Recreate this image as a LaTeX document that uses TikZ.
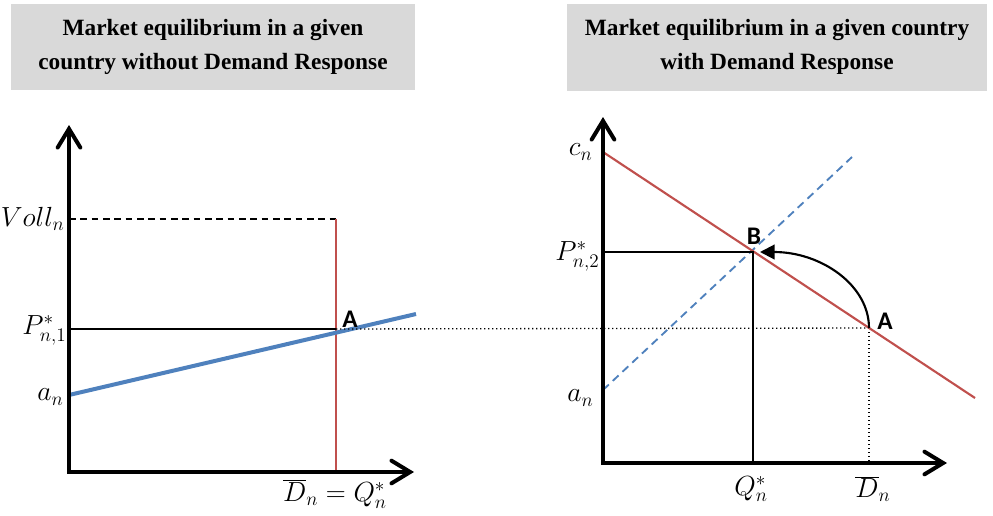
\documentclass[tikz,border=0pt]{standalone}
\usepackage{fontspec}
\setmainfont{Liberation Serif}
\newfontfamily\lblfont{Carlito}
\usetikzlibrary{arrows.meta}
\definecolor{boxgray}{RGB}{217,217,217}
\definecolor{dred}{RGB}{192,80,77}
\definecolor{dblue}{RGB}{79,129,189}
\tikzset{
  titlebox/.style={fill=boxgray, draw=none, inner sep=0pt, align=center,
    font=\fontsize{17.5pt}{25pt}\selectfont\bfseries},
  axisline/.style={line width=3pt, line cap=rect, -{Straight Barb[length=14pt,width=17pt,line cap=round]}},
  mathlbl/.style={inner sep=1pt, font=\fontsize{20pt}{24pt}\selectfont},
  ptlbl/.style={inner sep=0pt, font=\fontsize{19pt}{22pt}\selectfont\lblfont\bfseries},
  guide/.style={line width=1.1pt, black},
  dotline/.style={line width=1pt, black, dash pattern=on 1pt off 2pt},
  redline/.style={line width=1.6pt, dred},
}
\begin{document}
\begin{tikzpicture}[x=0.75pt,y=-0.75pt]
\useasboundingbox (0,0) rectangle (993,515);
% title boxes
\node[titlebox, minimum width=404*0.75pt, minimum height=86*0.75pt] (t1) at (213,47)
  {Market equilibrium in a given\\country without Demand Response};
\node[titlebox, minimum width=420*0.75pt, minimum height=87*0.75pt] (t2) at (777,47)
  {Market equilibrium in a given country\\with Demand Response};

% ---------- left plot ----------
\coordinate (O1) at (69,472);
\coordinate (Y1) at (69,125);
\coordinate (X1) at (414,472);
\coordinate (V1) at (336,219);
\coordinate (V0) at (69,219);
\coordinate (A1) at (336,329);
\coordinate (P1) at (69,329);
\coordinate (R1) at (336,472);
\coordinate (BL1) at (69,395);
\coordinate (BL2) at (416,314);

\draw[dashed, line width=1.1pt, dash pattern=on 5pt off 3.5pt] (V0) -- (V1);
\draw[redline] (V1) -- (R1);
\draw[guide] (P1) -- (A1);
\draw[dblue, line width=3pt] (BL1) -- (BL2);

% ---------- right plot ----------
\coordinate (O2) at (603,463);
\coordinate (Y2) at (603,117);
\coordinate (X2) at (947,463);
\coordinate (C2) at (603,152);
\coordinate (R2) at (975,398);
\coordinate (S0) at (603,390);
\coordinate (S1) at (852,157);
\coordinate (B2) at (753,252);
\coordinate (P2) at (603,252);
\coordinate (Q2) at (753,463);
\coordinate (A2) at (869,328);
\coordinate (D2) at (869,463);
\coordinate (AT) at (760,252);

\draw[dotline] (A1) -- (A2);
\draw[dotline] (A2) -- (D2);
\draw[dblue, line width=1.4pt, dash pattern=on 6pt off 4pt] (S0) -- (S1);
\draw[redline] (C2) -- (R2);
\draw[guide] (P2) -- (B2) -- (Q2);
\draw[line width=1.6pt, -{Triangle[length=11pt,width=11pt]}]
  (A2) .. controls (869,285) and (821,252) .. (AT);

% axes
\draw[axisline] (O1) -- (Y1);
\draw[axisline] (O1) -- (X1);
\draw[axisline] (O2) -- (Y2);
\draw[axisline] (O2) -- (X2);

% labels
\node[mathlbl, anchor=east] (lv) at (66,219) {$Voll_n$};
\node[mathlbl, anchor=east] (lp1) at (68,330) {$P^*_{n,1}$};
\node[mathlbl, anchor=east] (la1) at (65,397) {$a_n$};
\node[mathlbl] (ldq) at (335,494) {$\overline{D}_n=Q^*_n$};
\node[ptlbl] (lA1) at (350,319) {A};

\node[mathlbl, anchor=east] (lc) at (594,152) {$c_n$};
\node[mathlbl, anchor=east] (lp2) at (601,256) {$P^*_{n,2}$};
\node[mathlbl, anchor=east] (la2) at (595,398) {$a_n$};
\node[mathlbl] (lq) at (751,489) {$Q^*_n$};
\node[mathlbl] (ld) at (873,489) {$\overline{D}_n$};
\node[ptlbl] (lA2) at (885,321) {A};
\node[ptlbl] (lB) at (754,236) {B};
\end{tikzpicture}
\end{document}
